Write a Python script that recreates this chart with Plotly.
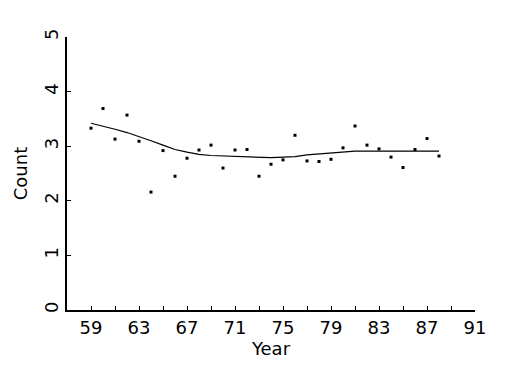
import plotly.graph_objects as go

years = list(range(59, 89))
counts = [3.33, 3.69, 3.13, 3.57, 3.09, 2.16, 2.92, 2.45, 2.78, 2.93,
          3.02, 2.60, 2.93, 2.94, 2.45, 2.67, 2.75, 3.20, 2.73, 2.72,
          2.76, 2.97, 3.37, 3.02, 2.95, 2.80, 2.61, 2.94, 3.14, 2.82]
smooth = [3.42, 3.37, 3.31, 3.25, 3.18, 3.10, 3.02, 2.94, 2.89, 2.85,
          2.83, 2.82, 2.81, 2.81, 2.80, 2.79, 2.80, 2.81, 2.84, 2.86,
          2.88, 2.90, 2.91, 2.91, 2.91, 2.91, 2.91, 2.91, 2.91, 2.91]
x_ticks = list(range(59, 92, 2))
x_labels = [str(v) if (v - 59) % 4 == 0 else "" for v in x_ticks]
y_ticks = [0, 1, 2, 3, 4, 5]

font = dict(family="DejaVu Sans", size=18, color="black")

fig = go.Figure()
fig.add_trace(go.Scatter(x=years, y=smooth, mode="lines",
                         line=dict(color="black", width=1.2), showlegend=False))
fig.add_trace(go.Scatter(x=years, y=counts, mode="markers",
                         marker=dict(symbol="square", size=3, color="black"),
                         showlegend=False))

fig.update_layout(
    width=525, height=375,
    margin=dict(l=67, r=50, t=37, b=65),
    paper_bgcolor="white", plot_bgcolor="white",
    font=font,
)
fig.update_xaxes(range=[57, 91], tickvals=x_ticks, ticktext=x_labels,
                 ticks="inside", ticklen=4, tickwidth=1, tickcolor="black",
                 showline=True, linecolor="black", linewidth=2,
                 showgrid=False, zeroline=False,
                 title=dict(text="Year", font=font, standoff=4))
fig.update_yaxes(range=[0, 5], tickvals=y_ticks, tickangle=-90,
                 ticks="inside", ticklen=4, tickwidth=1, tickcolor="black",
                 showline=True, linecolor="black", linewidth=2,
                 showgrid=False, zeroline=False,
                 title=dict(text="Count", font=font, standoff=8))

fig.write_html("out.html")
